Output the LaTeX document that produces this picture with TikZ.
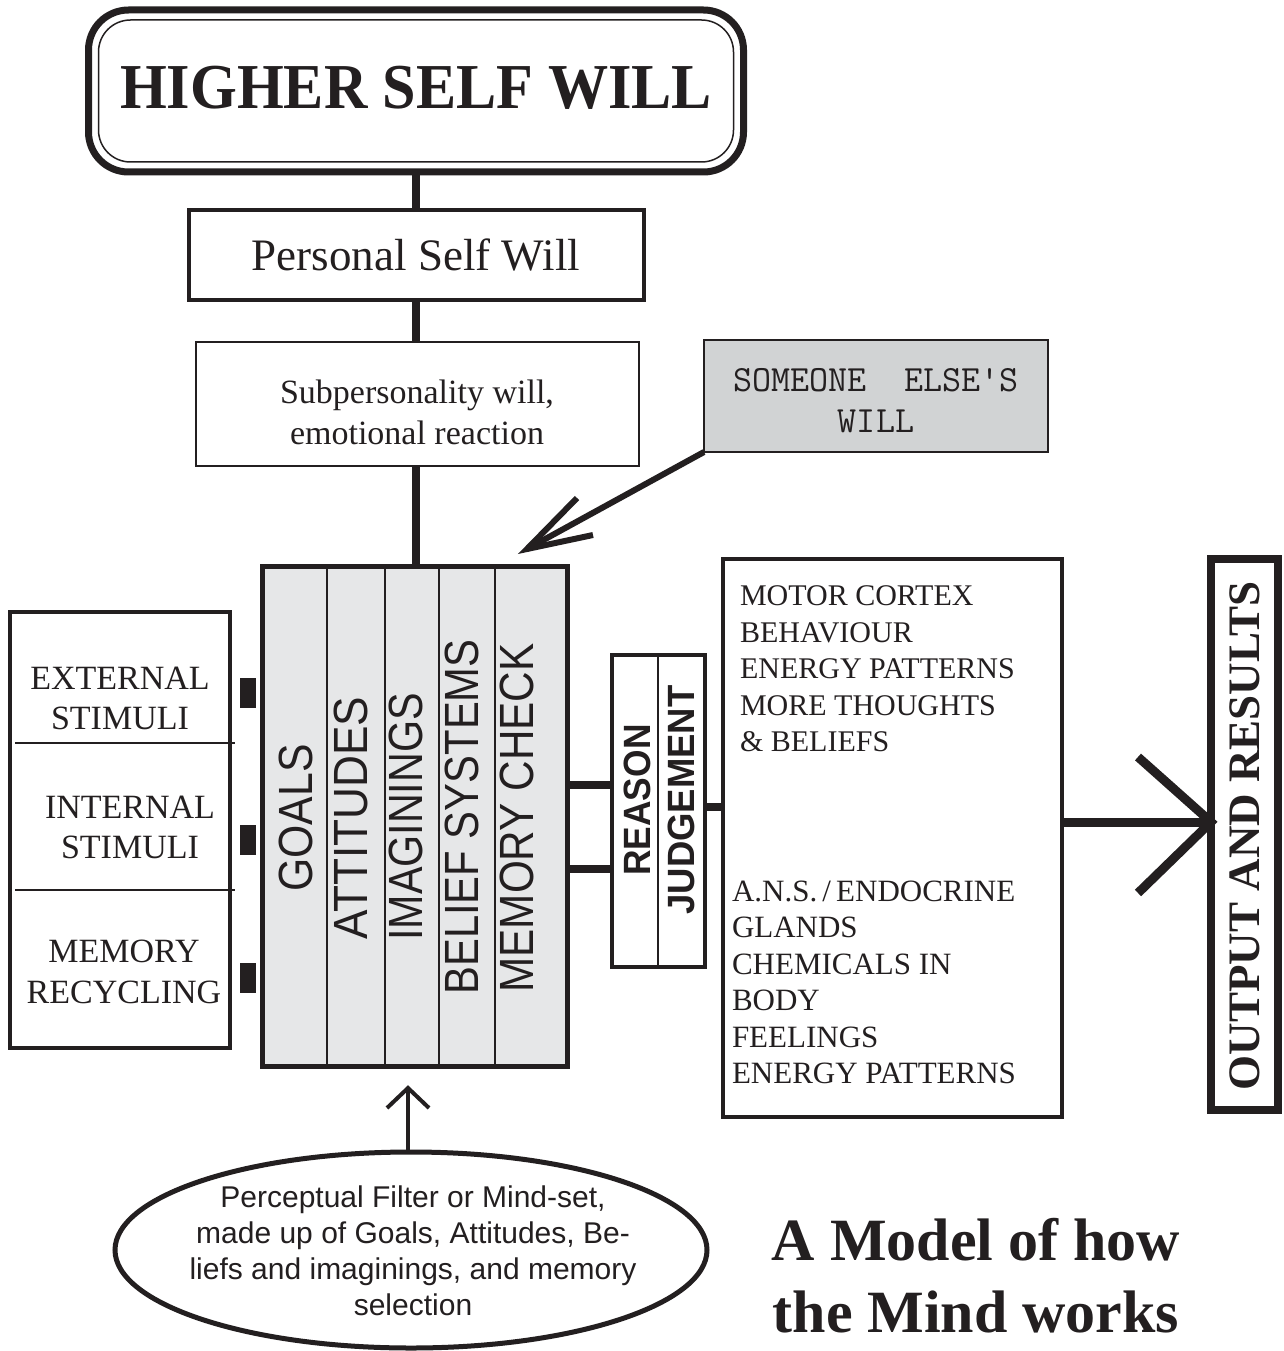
\documentclass[tikz,border=0pt]{standalone}
\usepackage{fontspec}
\setmainfont{Liberation Serif}
\setsansfont{Liberation Sans}
\usetikzlibrary{shapes.geometric}
\definecolor{ink}{RGB}{35,31,32}
\definecolor{panelgray}{RGB}{230,231,232}
\definecolor{boxgray}{RGB}{209,211,212}
\begin{document}
\begin{tikzpicture}[x=1pt,y=-1pt,
  every node/.style={inner sep=0pt, outer sep=0pt, text=ink},
  frame/.style={draw=ink, rectangle, anchor=center},
  conn/.style={draw=ink, line width=8pt},
  thinrule/.style={draw=ink, line width=2pt},
  vtext/.style={rotate=90, font=\fontsize{48}{48}\selectfont\sffamily, text height=34pt, text depth=0pt},
  rjtext/.style={rotate=90, font=\fontsize{38}{38}\selectfont\sffamily\bfseries, text height=27pt, text depth=0pt},
]
\useasboundingbox (0,0) rectangle (1284,1351);
\fill[white] (0,0) rectangle (1284,1351);

% Higher self will
\node[frame, line width=7pt, rounded corners=40pt, minimum width=655pt, minimum height=162pt] (hsw) at (416,91) {};
\node[frame, line width=1.5pt, rounded corners=32pt, minimum width=635pt, minimum height=142pt] (hswin) at (hsw.center) {};
\node[anchor=base, font=\fontsize{64}{64}\selectfont\bfseries] (hswt) at (416,109) {\scalebox{0.94}[1]{HIGHER SELF WILL}};

% Personal self will
\node[frame, line width=4pt, minimum width=455pt, minimum height=90pt] (psw) at (416,255) {};
\node[anchor=base, font=\fontsize{45}{45}\selectfont] (pswt) at (416,270) {Personal Self Will};

% Subpersonality
\node[frame, line width=2pt, minimum width=443pt, minimum height=124pt] (sub) at (417.5,404) {};
\node[anchor=north, align=center, font=\fontsize{34}{41}\selectfont] (subt) at (417,380) {Subpersonality will,\\emotional reaction};

% Someone else's will
\node[frame, line width=2.5pt, fill=boxgray, minimum width=344pt, minimum height=112pt] (sew) at (876,396) {};
\node[align=center, font=\fontsize{37}{41}\selectfont\ttfamily] (sewt) at (876,401) {SOMEONE\ \ ELSE\textquotesingle S\\WILL};

% Main panel
\node[frame, line width=5pt, fill=panelgray, minimum width=305pt, minimum height=500pt] (main) at (414.5,816) {};
\foreach \xx in {327,385,439,495}{\draw[thinrule] (\xx,566) -- (\xx,1066);}
\node[vtext] (goals) at (295,818) {\scalebox{0.89}[1]{GOALS}};
\node[vtext] (att) at (350,818) {\scalebox{0.92}[1]{ATTITUDES}};
\node[vtext] (ima) at (405,817) {\scalebox{0.86}[1]{IMAGININGS}};
\node[vtext] (bel) at (461,817) {\scalebox{0.87}[1]{BELIEF SYSTEMS}};
\node[vtext] (mem) at (516,818) {\scalebox{0.88}[1]{MEMORY CHECK}};

% Left stimuli box
\node[frame, line width=4pt, minimum width=220pt, minimum height=436pt] (stim) at (120,830) {};
\draw[thinrule] (15,743) -- (235,743);
\draw[thinrule] (15,890) -- (235,890);
\node[anchor=north, align=center, font=\fontsize{34}{40}\selectfont] (ext) at (120,667.5) {EXTERNAL\\STIMULI};
\node[anchor=north, align=center, font=\fontsize{34}{40}\selectfont] (int) at (130,796) {INTERNAL\\STIMULI};
\node[anchor=north, align=center, font=\fontsize{34}{41}\selectfont] (memr) at (124,940) {MEMORY\\RECYCLING};
\fill[ink] (240,678) rectangle (256,708);
\fill[ink] (240,825) rectangle (256,855);
\fill[ink] (240,963) rectangle (256,993);

% Reason / judgement
\node[frame, line width=4pt, minimum width=93pt, minimum height=312pt] (rj) at (658.5,811) {};
\draw[draw=ink, line width=1.5pt] (658,655) -- (658,969);
\node[rjtext] (reason) at (637,800) {\scalebox{0.93}[1]{REASON}};
\node[rjtext] (judge) at (681,800) {\scalebox{0.96}[1]{JUDGEMENT}};

% Right box
\node[frame, line width=4pt, minimum width=339pt, minimum height=558pt] (res) at (892.5,838) {};
\node[anchor=north west, align=left, font=\fontsize{30}{36.5}\selectfont] (upper) at (740,586)
  {MOTOR CORTEX\\BEHAVIOUR\\ENERGY PATTERNS\\MORE THOUGHTS\\\& BELIEFS};
\node[anchor=north west, align=left, font=\fontsize{31}{36.4}\selectfont] (lower) at (732,881)
  {A.N.S.\,/\,ENDOCRINE\\GLANDS\\CHEMICALS IN\\BODY\\FEELINGS\\ENERGY PATTERNS};

% Output box
\node[frame, line width=8pt, minimum width=67pt, minimum height=551pt] (out) at (1244.5,834.5) {};
\node[rotate=90, font=\fontsize{45}{45}\selectfont\bfseries, text height=30pt, text depth=0pt] (outt) at (1244,836) {OUTPUT AND RESULTS};

% Ellipse
\node[draw=ink, ellipse, line width=5pt, minimum width=592pt, minimum height=196pt] (ell) at (411,1250) {};
\node[align=center, font=\fontsize{30}{36}\selectfont\sffamily] (ellt) at (413,1251)
  {Perceptual Filter or Mind-set,\\made up of Goals, Attitudes, Be-\\liefs and imaginings, and memory\\selection};

% Title
\node[anchor=north, align=center, font=\fontsize{60}{72}\selectfont\bfseries] (title) at (976,1218)
  {A Model of how\\the Mind works};

% Connectors
\draw[conn] (hsw.south) -- (psw.north);
\draw[conn] (psw.south) -- (psw.south |- sub.north);
\draw[conn] (psw.south |- sub.south) -- (psw.south |- main.north);
\draw[conn] (main.east |- 0,785) -- (rj.west |- 0,785);
\draw[conn] (main.east |- 0,869) -- (rj.west |- 0,869);
\draw[conn] (rj.east |- 0,807) -- (res.west |- 0,807);

% Someone else's will arrow
\coordinate (sewtip) at (527,549);
\draw[draw=ink, line width=6pt] (sew.south west) -- (sewtip);
\draw[draw=ink, line width=6pt, line join=miter] (577,498) -- (sewtip) -- (593,535);

% Output arrow
\coordinate (outtip) at (out.west |- 0,822);
\draw[draw=ink, line width=9pt] (res.east |- 0,822) -- (outtip);
\draw[draw=ink, line width=9pt, line join=miter] (1138,757) -- (outtip) -- (1138,893);

% Filter arrow
\path (ell.north) ++(-3,-64) coordinate (elltip);
\draw[draw=ink, line width=4pt] (elltip |- ell.north) -- (elltip);
\draw[draw=ink, line width=4pt, line join=miter] (elltip) ++(-21,20) -- (elltip) -- ++(21,20);
\end{tikzpicture}
\end{document}
